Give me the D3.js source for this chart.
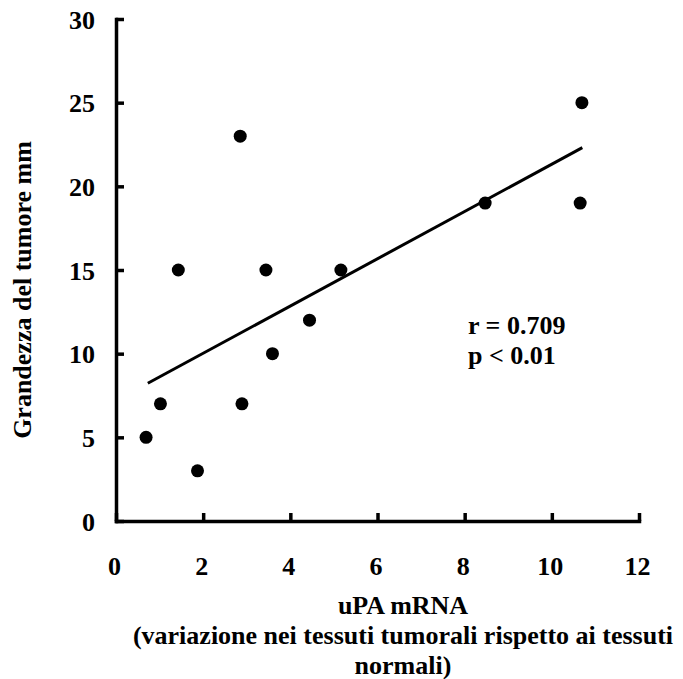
<!DOCTYPE html>
<html>
<head>
<meta charset="utf-8">
<script src="https://cdn.jsdelivr.net/npm/d3@7"></script>
<style>
  html, body { margin: 0; padding: 0; background: #fff; }
  svg { display: block; }
  text { font-family: "Liberation Serif", "Times New Roman", serif; font-weight: bold; fill: #000; }
</style>
</head>
<body>
<svg id="chart" width="683" height="679"></svg>
<script>
// Data
const upaX = [0.69, 1.02, 1.43, 1.87, 2.85, 2.89, 3.44, 3.59, 4.44, 5.16, 8.47, 10.65, 10.69];
const tumorY = [5, 7, 15, 3, 23, 7, 15, 10, 12, 15, 19, 19, 25];
const fitX = [0.73, 10.7];
const fitY = [8.23, 22.31];
const xTicks = [0, 2, 4, 6, 8, 10, 12];
const yTicks = [0, 5, 10, 15, 20, 25, 30];
const statLines = ["r = 0.709", "p < 0.01"];
const xTitleLines = ["uPA mRNA", "(variazione nei tessuti tumorali rispetto ai tessuti", "normali)"];
const yTitle = "Grandezza del tumore mm";

const svg = d3.select("#chart");
const x = d3.scaleLinear().domain([0, 12]).range([116, 639]);
const y = d3.scaleLinear().domain([0, 30]).range([521, 19]);

const fs = 26;

const xAxis = svg.append("g")
  .attr("transform", `translate(0,${y(0)})`)
  .call(d3.axisBottom(x).tickValues(xTicks).tickFormat(d3.format("d"))
        .tickSizeInner(-8).tickSizeOuter(0).tickPadding(36));
const yAxis = svg.append("g")
  .attr("transform", `translate(${x(0)},0)`)
  .call(d3.axisLeft(y).tickValues(yTicks).tickFormat(d3.format("d"))
        .tickSizeInner(-8).tickSizeOuter(0).tickPadding(21));

[xAxis, yAxis].forEach(g => {
  g.select(".domain").attr("stroke", "#000").attr("stroke-width", 3.5).attr("stroke-linecap", "square");
  g.selectAll(".tick line").attr("stroke", "#000").attr("stroke-width", 3.5);
  g.selectAll(".tick text").style("font-size", fs + "px")
   .style("font-family", '"Liberation Serif", "Times New Roman", serif').style("font-weight", "bold");
});
xAxis.selectAll(".tick text").attr("dx", "-2").attr("dy", "0.68em");
yAxis.selectAll(".tick text").attr("dy", "0.35em");

// regression line
const fit = fitX.map((d, i) => [d, fitY[i]]);
svg.append("path")
  .attr("d", d3.line().x(d => x(d[0])).y(d => y(d[1]))(fit))
  .attr("fill", "none").attr("stroke", "#000").attr("stroke-width", 3);

// points
svg.append("g").selectAll("circle")
  .data(upaX.map((d, i) => [d, tumorY[i]]))
  .join("circle")
  .attr("cx", d => x(d[0])).attr("cy", d => y(d[1])).attr("r", 6.5)
  .attr("fill", "#000");

// stats
svg.append("g").selectAll("text").data(statLines).join("text")
  .attr("x", 468).attr("y", (d, i) => 334 + i * 30)
  .style("font-size", fs + "px").text(d => d);

// x title
svg.append("g").selectAll("text").data(xTitleLines).join("text")
  .attr("x", 403).attr("y", (d, i) => 614 + i * 30)
  .attr("text-anchor", "middle")
  .style("font-size", fs + "px").text(d => d);

// y title
svg.append("text")
  .attr("transform", "translate(31,290) rotate(-90)")
  .attr("text-anchor", "middle")
  .style("font-size", fs + "px").text(yTitle);
</script>
</body>
</html>
